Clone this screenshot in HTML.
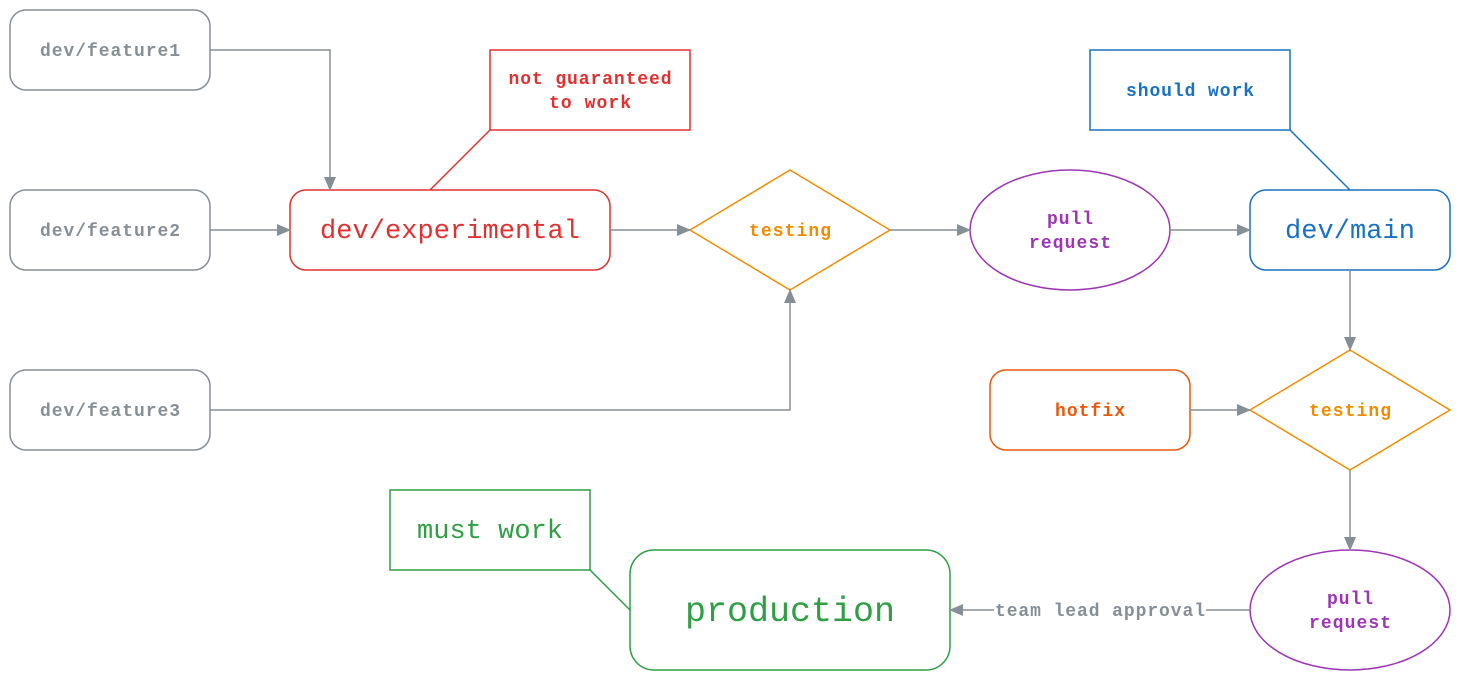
<!DOCTYPE html>
<html><head><meta charset="utf-8"><style>
html,body{margin:0;padding:0;background:#fff;}
svg text{font-family:"Liberation Mono",monospace;dominant-baseline:central;text-anchor:middle;}
.s{font-size:18px;font-weight:bold;}
.l{font-size:27px;}
</style></head><body>
<svg width="1460" height="680" viewBox="0 0 1460 680" xmlns="http://www.w3.org/2000/svg">
<defs><marker id="a" markerWidth="14" markerHeight="12" refX="13" refY="6" orient="auto" markerUnits="userSpaceOnUse"><path d="M0,0 L14,6 L0,12 z" fill="#868e96"/></marker></defs>
<g fill="none" stroke-width="1.5">
<rect x="10" y="10" width="200" height="80" rx="16" stroke="#868e96"/>
<rect x="10" y="190" width="200" height="80" rx="16" stroke="#868e96"/>
<rect x="10" y="370" width="200" height="80" rx="16" stroke="#868e96"/>
<rect x="290" y="190" width="320" height="80" rx="16" stroke="#e03131"/>
<rect x="490" y="50" width="200" height="80" stroke="#e03131"/>
<line x1="430" y1="190" x2="490" y2="130" stroke="#e03131"/>
<polygon points="690,230 790,170 890,230 790,290" stroke="#f08c00"/>
<ellipse cx="1070" cy="230" rx="100" ry="60" stroke="#9c36b5"/>
<rect x="1250" y="190" width="200" height="80" rx="16" stroke="#1971c2"/>
<rect x="1090" y="50" width="200" height="80" stroke="#1971c2"/>
<line x1="1290" y1="130" x2="1350" y2="190" stroke="#1971c2"/>
<polygon points="1250,410 1350,350 1450,410 1350,470" stroke="#f08c00"/>
<rect x="990" y="370" width="200" height="80" rx="16" stroke="#e8590c"/>
<ellipse cx="1350" cy="610" rx="100" ry="60" stroke="#9c36b5"/>
<rect x="630" y="550" width="320" height="120" rx="24" stroke="#2f9e44"/>
<rect x="390" y="490" width="200" height="80" stroke="#2f9e44"/>
<line x1="590" y1="570" x2="630" y2="610" stroke="#2f9e44"/>
<g stroke="#868e96" marker-end="url(#a)">
<path d="M210,50 H330 V190"/>
<path d="M210,230 H290"/>
<path d="M210,410 H790 V290"/>
<path d="M610,230 H690"/>
<path d="M890,230 H970"/>
<path d="M1170,230 H1250"/>
<path d="M1350,270 V350"/>
<path d="M1190,410 H1250"/>
<path d="M1350,470 V550"/>
<path d="M1250,610 H1206 M994,610 H950"/>
</g>
</g>
<g transform="translate(0,2)">
<text class="s" x="110" y="50" fill="#868e96" textLength="140">dev/feature1</text>
<text class="s" x="110" y="230" fill="#868e96" textLength="140">dev/feature2</text>
<text class="s" x="110" y="410" fill="#868e96" textLength="140">dev/feature3</text>
<text class="l" x="450" y="230" fill="#e03131" textLength="260">dev/experimental</text>
<text class="s" x="590" y="78" fill="#e03131" textLength="163">not guaranteed</text>
<text class="s" x="590" y="102" fill="#e03131" textLength="82">to work</text>
<text class="s" x="790" y="230" fill="#f08c00" textLength="82">testing</text>
<text class="s" x="1070" y="218" fill="#9c36b5" textLength="46">pull</text>
<text class="s" x="1070" y="242" fill="#9c36b5" textLength="82">request</text>
<text class="l" x="1350" y="230" fill="#1971c2" textLength="130">dev/main</text>
<text class="s" x="1190" y="90" fill="#1971c2" textLength="128">should work</text>
<text class="s" x="1350" y="410" fill="#f08c00" textLength="82">testing</text>
<text class="s" x="1090" y="410" fill="#e8590c" textLength="70">hotfix</text>
<text class="s" x="1350" y="598" fill="#9c36b5" textLength="46">pull</text>
<text class="s" x="1350" y="622" fill="#9c36b5" textLength="82">request</text>
<text class="s" x="1100" y="610" fill="#868e96" textLength="210">team lead approval</text>
<text x="790" y="610" fill="#2f9e44" style="font-size:35px" textLength="210">production</text>
<text class="l" x="490" y="530" fill="#2f9e44" textLength="146">must work</text>
</g>
</svg>
</body></html>
